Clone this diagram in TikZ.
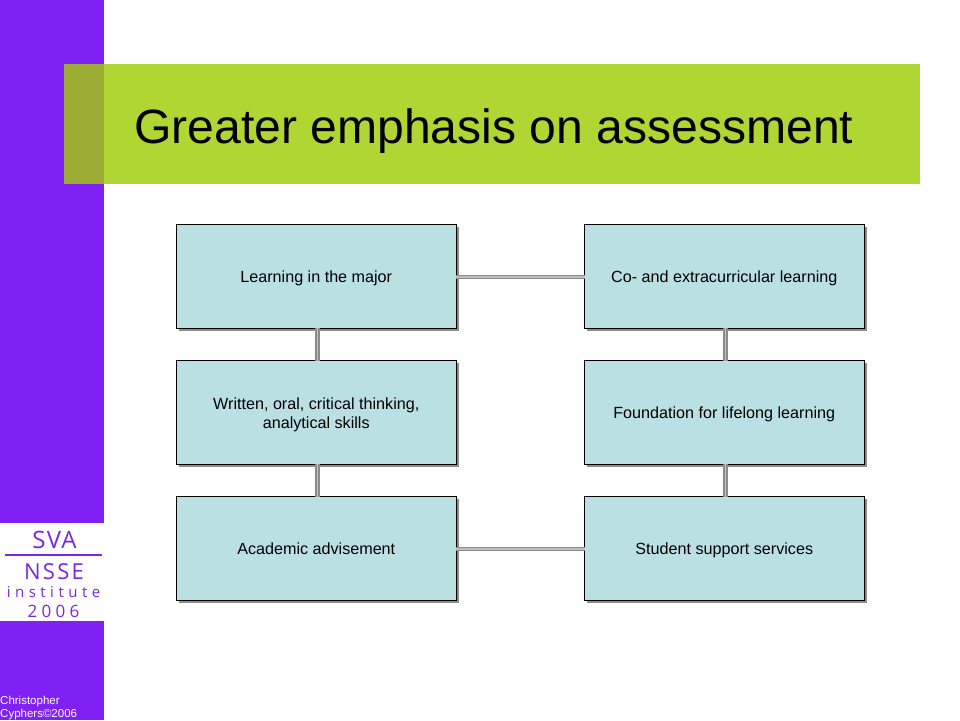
\documentclass[tikz,border=0pt]{standalone}
\usepackage{fontspec}
\setmainfont{Liberation Sans}
\newfontfamily\logosva[LetterSpace=5]{Open Sans}
\newfontfamily\logonsse[LetterSpace=10]{Open Sans}
\newfontfamily\logoinst[LetterSpace=30]{Open Sans}
\newfontfamily\logoyear[LetterSpace=25]{Open Sans}
\usetikzlibrary{shadows}
\definecolor{colorSide}{HTML}{7F20F4}
\definecolor{colorBand}{HTML}{AFD633}
\definecolor{colorOver}{HTML}{9BAB33}
\definecolor{colorBox}{HTML}{BBE0E3}
\definecolor{colorLink}{HTML}{8C8C8C}
\definecolor{colorLogo}{HTML}{7A28E0}
\tikzset{
   topic/.style={draw=black,line width=1pt,fill=colorBox,minimum width=280pt,minimum height=104pt,
      align=center,inner sep=0pt,text height=15.5pt,text depth=3.5pt,font=\fontsize{16.15}{19}\selectfont,
      drop shadow={shadow xshift=3pt,shadow yshift=-3pt,fill=colorLink,opacity=1}},
   twolines/.style={text height=35pt,text depth=3pt},
   link/.style={draw=colorLink,line width=1.4pt,double=lightgray,double distance=1.4pt,shorten >=-1pt,shorten <=-1pt},
   logotext/.style={text=colorLogo,inner sep=0pt},
}
\begin{document}
\begin{tikzpicture}[x=1pt,y=-1pt]
      \useasboundingbox (0,0) rectangle (960,720);
      \fill[white] (0,0) rectangle (960,720);
      \fill[colorSide] (0,0) rectangle (104,720);
      \fill[colorBand] (64,64) rectangle (920,184);
      \fill[colorOver] (64,64) rectangle (104,184);
      \fill[white] (0,523) rectangle (104,621);
      \node[anchor=base west,inner sep=0pt,font=\fontsize{48.1}{60}\selectfont] (title) at (134,143.5) {Greater emphasis on assessment};
      \node[topic] (major) at (316.25,276) {Learning in the major};
      \node[topic,twolines] (written) at (316.25,412) {Written, oral, critical thinking,\\analytical skills};
      \node[topic] (advise) at (316.25,548) {Academic advisement};
      \node[topic] (cocur) at (724.25,276) {Co- and extracurricular learning};
      \node[topic] (lifelong) at (724.25,412) {Foundation for lifelong learning};
      \node[topic] (support) at (724.25,548) {Student support services};
      \draw[link] ([yshift=-1pt]major.east) -- ([yshift=-1pt]cocur.west);
      \draw[link] ([yshift=-1pt]advise.east) -- ([yshift=-1pt]support.west);
      \draw[link] ([xshift=1.2pt]major.south) -- ([xshift=1.2pt]written.north);
      \draw[link] ([xshift=1.2pt]written.south) -- ([xshift=1.2pt]advise.north);
      \draw[link] ([xshift=1.2pt]cocur.south) -- ([xshift=1.2pt]lifelong.north);
      \draw[link] ([xshift=1.2pt]lifelong.south) -- ([xshift=1.2pt]support.north);
      \node[logotext,font=\logosva\fontsize{24}{24}\selectfont] (sva) at (54.5,539.5) {SVA};
      \draw[colorLogo,line width=2pt] (5,554.5) coordinate (rulel) -- (102,554.5) coordinate (ruler);
      \node[logotext,font=\logonsse\fontsize{22}{22}\selectfont] (nsse) at (54,572) {NSSE};
      \node[logotext,font=\logoinst\fontsize{15}{15}\selectfont] (inst) at (53.5,592) {institute};
      \node[logotext,font=\logoyear\fontsize{17}{17}\selectfont] (year) at (53.5,611) {2006};
      \node[anchor=base west,inner sep=0pt,text=white,font=\fontsize{11.5}{14}\selectfont] (who) at (0,704) {Christopher};
      \node[anchor=base west,inner sep=0pt,text=white,font=\fontsize{11.5}{14}\selectfont] (when) at (0,717.5) {Cyphers©2006};
    \end{tikzpicture}
\end{document}
